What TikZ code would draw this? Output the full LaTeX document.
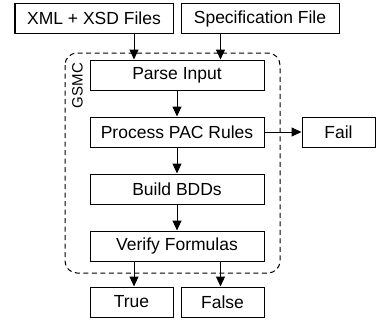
\documentclass[tikz,border=0pt]{standalone}
\usepackage{fontspec}
\setmainfont{Liberation Sans}
\usetikzlibrary{arrows.meta}
\begin{document}
\begin{tikzpicture}[x=1pt,y=1pt,
  box/.style={draw=black, line width=1pt, minimum height=30pt, inner sep=0pt,
    font=\fontsize{17.5}{20}\selectfont},
  arr/.style={line width=1pt, -{Triangle[length=10pt,width=9pt]}},
  frame/.style={draw=black, line width=1pt, dash pattern=on 5pt off 3.5pt, rounded corners=12pt}]
\useasboundingbox (0,0) rectangle (376,-322);
\node[box, minimum width=158pt] (xml) at (94,-18.5) {XML + XSD Files};
\node[box, minimum width=158pt] (spec) at (260,-18.5) {Specification File};
\draw[frame] (65,-53) rectangle (280,-273);
\node[rotate=90, font=\fontsize{15}{18}\selectfont] (gsmc) at (77.5,-85.5) {GSMC};
\node[box, minimum width=174pt] (parse) at (177,-75) {Parse Input};
\node[box, minimum width=174pt] (pac) at (177,-132) {Process PAC Rules};
\node[box, minimum width=73pt] (fail) at (338.5,-132) {Fail};
\node[box, minimum width=174pt] (bdd) at (177,-189) {Build BDDs};
\node[box, minimum width=174pt] (verify) at (177,-246) {Verify Formulas};
\node[box, minimum width=83pt] (true) at (131.5,-302) {True};
\node[box, minimum width=83pt] (false) at (222.5,-302) {False};
\coordinate (cl) at (134,0);
\coordinate (cr) at (220.5,0);
\draw[arr] (xml.south -| cl) -- (parse.north -| cl);
\draw[arr] (spec.south -| cr) -- (parse.north -| cr);
\draw[arr] (parse) -- (pac);
\draw[arr] (pac) -- (fail);
\draw[arr] (pac) -- (bdd);
\draw[arr] (bdd) -- (verify);
\draw[arr] (verify.south -| cl) -- (true.north -| cl);
\draw[arr] (verify.south -| cr) -- (false.north -| cr);
\end{tikzpicture}
\end{document}
